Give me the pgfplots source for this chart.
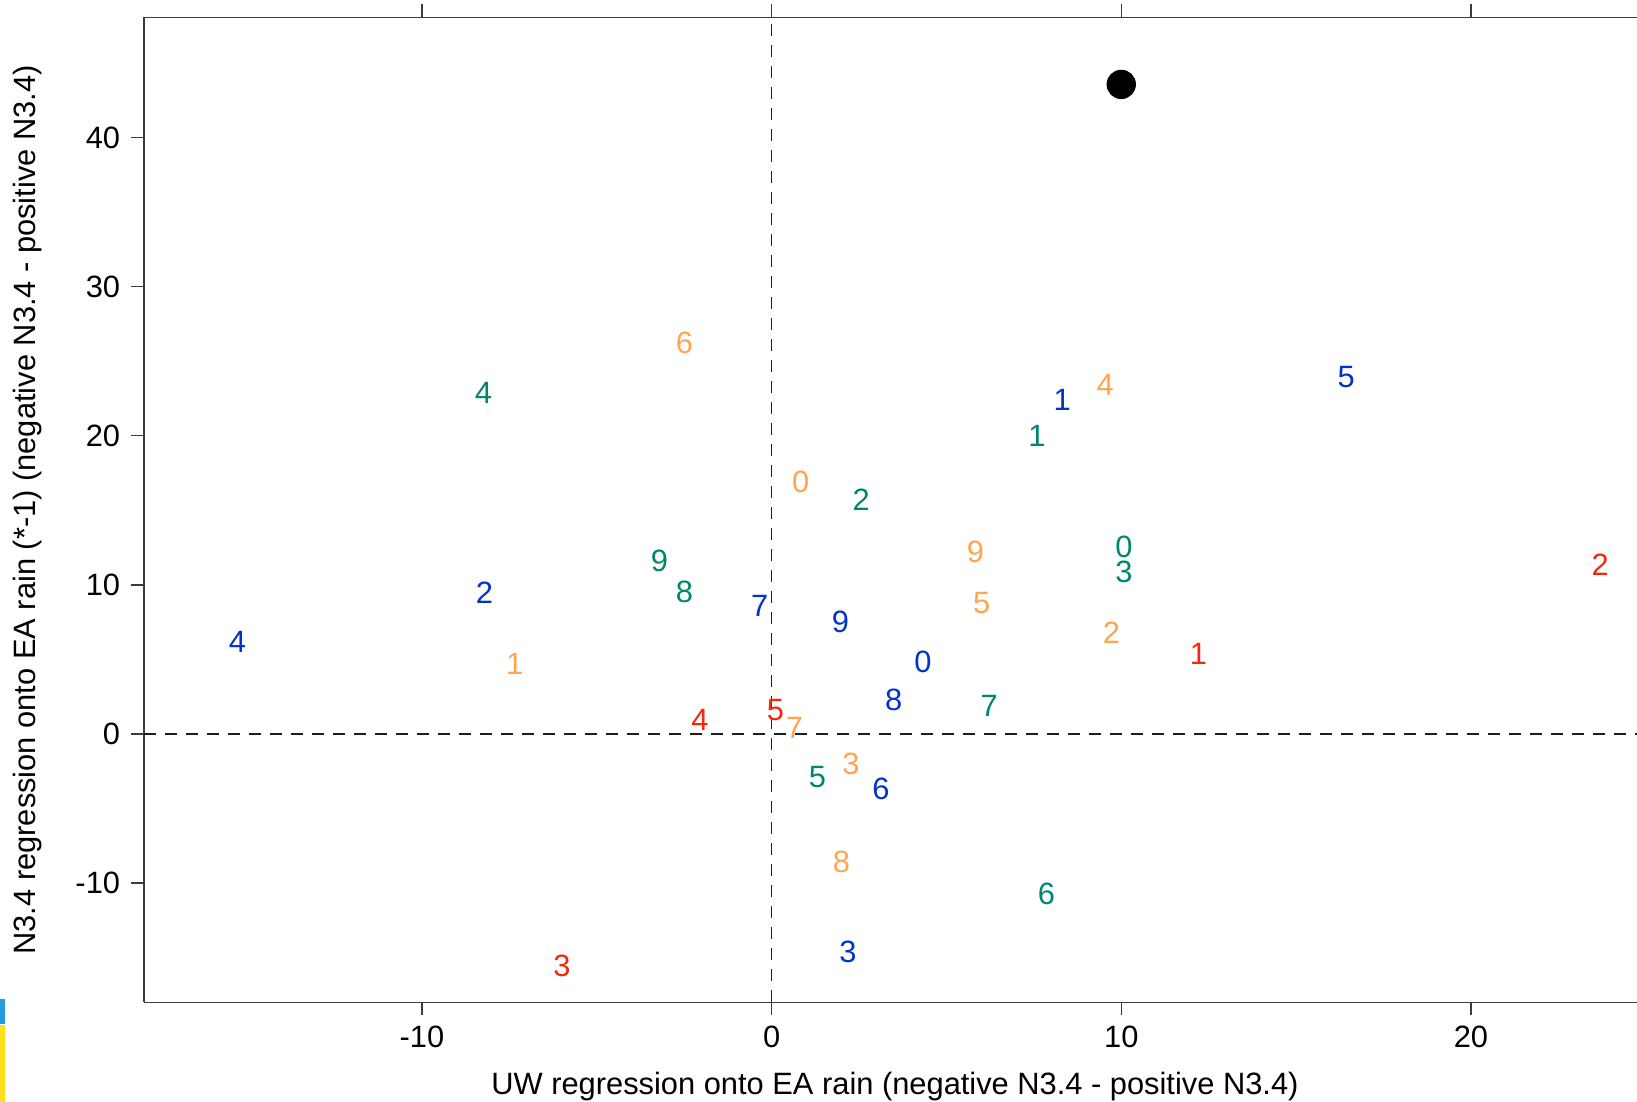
\documentclass[border=0pt]{standalone}
\usepackage{fontspec}
\setmainfont{Liberation Sans}
\usepackage{pgfplots}
\pgfplotsset{compat=1.18}
\definecolor{cblue}{RGB}{0,51,204}
\definecolor{cgreen}{RGB}{0,134,110}
\definecolor{corange}{RGB}{255,165,80}
\definecolor{cred}{RGB}{245,40,10}
\definecolor{axgray}{RGB}{60,60,60}
\definecolor{dashgray}{RGB}{30,30,30}
\begin{document}
\fontsize{9.25}{11}\selectfont
\begin{tikzpicture}
\path[use as bounding box] (0,0) rectangle (491.1pt,330.6pt);
\fill[cyan!80!blue!90] (0,23.4pt) rectangle (1.5pt,30.9pt);
\fill[yellow!80!orange!90] (0,0) rectangle (1.5pt,23.1pt);
\begin{axis}[
  at={(43.2pt,29.9pt)}, anchor=south west,
  scale only axis, width=447.9pt, height=295.5pt,
  xmin=-17.95, xmax=24.75, ymin=-18.0, ymax=48.07,
  axis x line*=box, axis y line*=left,
  axis line style={axgray, line width=0.4pt, -},
  tick style={axgray, line width=0.4pt},
  tick align=outside, major tick length=3.9pt,
  xtick={-10,0,10,20}, ytick={-10,0,10,20,30,40},
  /pgf/number format/assume math mode=true,
  ticklabel style={font=\fontsize{9.25}{11}\selectfont},
  xlabel={UW regression onto EA rain (negative N3.4 - positive N3.4)},
  ylabel={N3.4 regression onto EA rain (*-1) (negative N3.4 - positive N3.4)},
  xlabel style={at={(axis description cs:0.503,-0.085)}, anchor=center},
  ylabel style={at={(axis description cs:-0.0777,0.5)}, anchor=center},
  nodes near coords, point meta=explicit symbolic,
  nodes near coords align={center},
  every node near coord/.append style={anchor=center, inner sep=0pt, font=\fontsize{9.25}{11}\selectfont},
]
\addplot[dashgray, line width=0.45pt, dash pattern=on 3.6pt off 2.7pt, nodes near coords=] coordinates {(0,-18) (0,48.07)};
\addplot[dashgray, line width=0.45pt, dash pattern=on 3.6pt off 2.7pt, nodes near coords=] coordinates {(-17.95,0) (24.75,0)};
% blue
\addplot[draw=none, mark=none, every node near coord/.append style={text=cblue}] table[meta=lab] {
x y lab
4.33 4.83 0
8.31 22.38 1
-8.21 9.44 2
2.18 -14.62 3
-15.28 6.15 4
16.43 23.92 5
3.13 -3.71 6
-0.34 8.60 7
3.49 2.31 8
1.97 7.55 9
};
% green
\addplot[draw=none, mark=none, every node near coord/.append style={text=cgreen}] table[meta=lab] {
x y lab
10.08 12.52 0
7.59 20.00 1
2.56 15.73 2
10.08 10.84 3
-8.24 22.87 4
1.31 -2.87 5
7.86 -10.70 6
6.22 1.89 7
-2.49 9.51 8
-3.21 11.61 9
};
% orange
\addplot[draw=none, mark=none, every node near coord/.append style={text=corange}] table[meta=lab] {
x y lab
0.83 16.92 0
-7.35 4.69 1
9.72 6.78 2
2.27 -2.03 3
9.54 23.43 4
6.01 8.81 5
-2.49 26.22 6
0.65 0.42 7
2.00 -8.60 8
5.83 12.24 9
};
% red
\addplot[draw=none, mark=none, every node near coord/.append style={text=cred}] table[meta=lab] {
x y lab
12.21 5.38 1
23.70 11.33 2
-6.00 -15.59 3
-2.05 0.91 4
0.11 1.61 5
};
\addplot[only marks, mark=*, mark size=4.2pt, black, nodes near coords=] coordinates {(10,43.57)};
\end{axis}
\end{tikzpicture}
\end{document}
